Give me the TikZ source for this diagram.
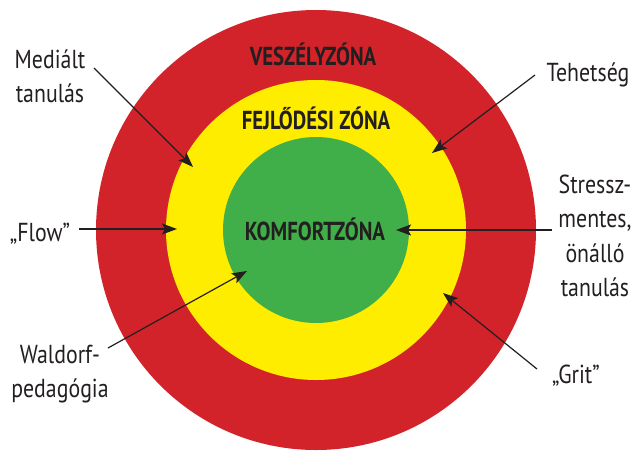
\documentclass[tikz,border=0pt]{standalone}
\usepackage{fontspec}
\setmainfont{PT Sans}
\newfontfamily\labfont{PT Sans}[FakeStretch=0.84]
\newfontfamily\zonefont{PT Sans}[FakeStretch=0.8]
\usetikzlibrary{arrows.meta}
\definecolor{ring1}{HTML}{D2232A}
\definecolor{ring2}{HTML}{FFED00}
\definecolor{ring3}{HTML}{40AE49}
\definecolor{ink}{HTML}{231F20}
\newcommand{\stacklines}[1]{\begin{tabular}[t]{@{}c@{}}#1\end{tabular}}
\begin{document}
\begin{tikzpicture}[x=1pt,y=-1pt,
  lab/.style={font=\labfont\fontsize{26}{34.5}\selectfont, text=ink, inner sep=0pt, anchor=base},
  zone/.style={font=\zonefont\bfseries\fontsize{26}{30}\selectfont, text=ink, inner sep=0pt, anchor=base},
  arr/.style={draw=ink, line width=1.2pt, -{Stealth[length=15pt,width=11pt,inset=3pt]}}]
\useasboundingbox (0,0) rectangle (631,450);
\begin{scope}
\clip (0,0) rectangle (631,450);
\fill[ring1] (316,230) circle[radius=220pt];
\fill[ring2] (316,230) circle[radius=150pt];
\fill[ring3] (316,230) circle[radius=93pt];
\end{scope}
% zone titles
\node[zone] (vesz) at (313,65) {VESZÉLYZÓNA};
\node[zone] (fejl) at (316,129) {FEJLŐDÉSI ZÓNA};
\node[zone] (komf) at (315,240) {KOMFORTZÓNA};
% labels
\node[lab] (medialt) at (50,68) {\stacklines{Mediált\\tanulás}};
\node[lab] (tehet) at (588,81) {Tehetség};
\node[lab] (flow) at (40,241) {„Flow”};
\node[lab] (stressz) at (595,193) {\stacklines{Stressz-\\mentes,\\önálló\\tanulás}};
\node[lab] (waldorf) at (60,363) {\stacklines{Waldorf-\\pedagógia}};
\node[lab] (grit) at (576,383) {„Grit”};
% arrow ends
\coordinate (medT) at (94,68);   \coordinate (medH) at (193,167);
\coordinate (tehT) at (535,75);  \coordinate (tehH) at (432,153);
\coordinate (floT) at (79,229);  \coordinate (floH) at (177,229);
\coordinate (strT) at (552,230); \coordinate (strH) at (396,230);
\coordinate (walT) at (108,348); \coordinate (walH) at (247,271);
\coordinate (griT) at (537,369); \coordinate (griH) at (443,293);
\draw[arr] (medT) -- (medH);
\draw[arr] (tehT) -- (tehH);
\draw[arr] (floT) -- (floH);
\draw[arr] (strT) -- (strH);
\draw[arr] (walT) -- (walH);
\draw[arr] (griT) -- (griH);
\end{tikzpicture}
\end{document}
